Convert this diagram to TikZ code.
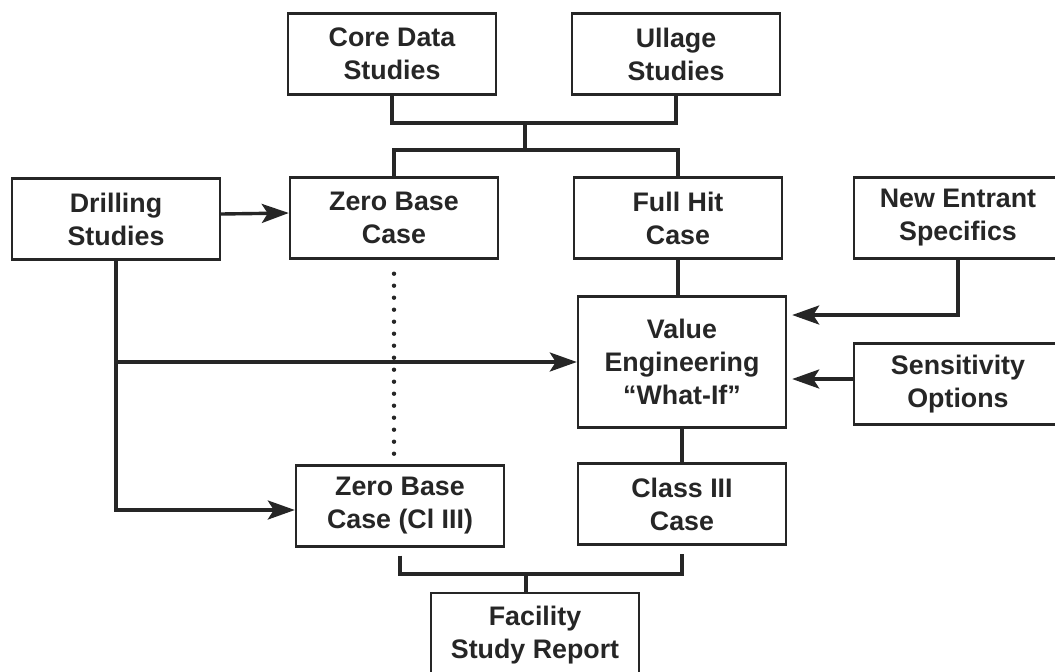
\documentclass[tikz,border=0pt]{standalone}
\usepackage{fontspec}
\setmainfont{Liberation Sans}
\usetikzlibrary{arrows.meta}
\definecolor{inkgray}{RGB}{38,38,38}

\begin{document}
\begin{tikzpicture}[x=0.5pt,y=-0.5pt,
  box/.style={draw=inkgray,line width=1.2pt,minimum width=104pt,minimum height=40.5pt,
    inner sep=0pt,align=center,text=inkgray,font=\fontsize{13.4}{16.5}\selectfont\bfseries},
  link/.style={draw=inkgray,line width=1.7pt},
  feed/.style={link,-{Stealth[length=13.5pt,width=9.5pt,inset=3pt]}}]
  \useasboundingbox (0,0) rectangle (1055,671);
  \clip (0,0) rectangle (1055,671);
  \fill[white] (0,0) rectangle (1055,671);

  \node[box] (core) at (392,54) {Core Data\\Studies};
  \node[box] (ullage) at (676,54) {Ullage\\Studies};
  \node[box] (drill) at (116,219) {Drilling\\Studies};
  \node[box] (zbase) at (394,218) {Zero Base\\Case};
  \node[box] (fullhit) at (678,218) {Full Hit\\Case};
  \node[box] (newent) at (958,218) {New Entrant\\Specifics};
  \node[box,minimum height=65.5pt] (valeng) at (682,362) {Value\\Engineering\\“What-If”};
  \node[box] (sens) at (958,384) {Sensitivity\\Options};
  \node[box] (zbcl) at (400,506) {Zero Base\\Case (Cl III)};
  \node[box] (class3) at (682,504) {Class III\\Case};
  \node[box,minimum height=42pt] (facil) at (535,635) {Facility\\Study Report};

  \coordinate (topbus) at (525,123);
  \coordinate (midbus) at (525,150);
  \coordinate (botbus) at (526,574);

  \draw[link] (core.south) |- (topbus) -| (ullage.south);
  \draw[link] (topbus) -- (midbus);
  \draw[link] (zbase.north) |- (midbus) -| (fullhit.north);

  \draw[feed] ([yshift=2.5pt]drill.east) -- ([yshift=2.5pt]zbase.west);
  \draw[feed] (drill.south) |- ([yshift=-2pt]zbcl.west);
  \draw[feed] (drill.south |- valeng.west) -- (valeng.west);
  \draw[inkgray,line width=2.2pt,line cap=round,dash pattern=on 0pt off 6pt]
    (zbase.south) ++(0,14) -- (zbase.south |- zbcl.north);

  \draw[link] (fullhit.south) -- (fullhit.south |- valeng.north);
  \draw[link] (valeng.south) -- (class3.north);
  \draw[feed,shorten >=2.5pt] (newent.south) |- ([yshift=23.5pt]valeng.east);
  \draw[feed,shorten >=2.5pt] ([yshift=2.5pt]sens.west) -- ([yshift=2.5pt]valeng.east |- sens.west);

  \draw[link,shorten <=4pt] (zbcl.south) |- (botbus) -| ([yshift=-4pt]class3.south);
  \draw[link] (botbus) -- (botbus |- facil.north);
\end{tikzpicture}
\end{document}
